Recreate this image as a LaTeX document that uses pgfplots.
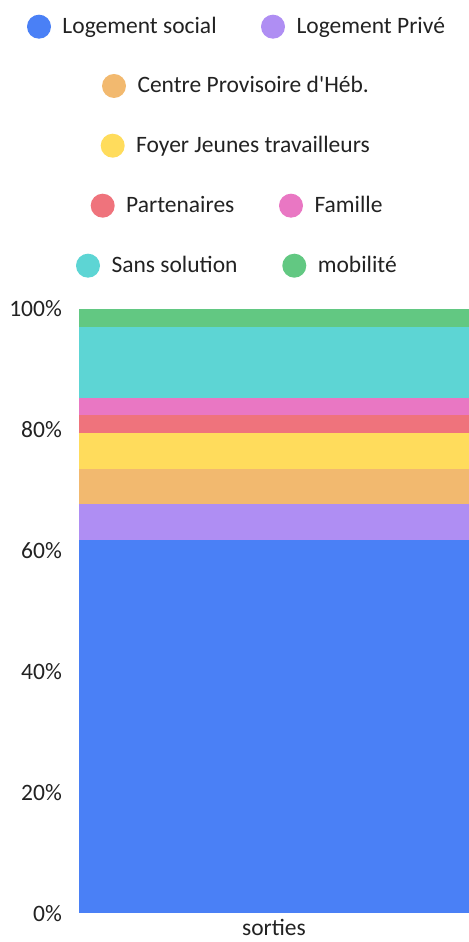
\documentclass[border=0pt]{standalone}
\usepackage{fontspec}
\setmainfont{Carlito}
\usepackage{pgfplots}
\pgfplotsset{compat=1.18}

\definecolor{cBlue}{HTML}{4A80F6}
\definecolor{cPurple}{HTML}{AF8EF3}
\definecolor{cOrange}{HTML}{F2B96F}
\definecolor{cYellow}{HTML}{FFDC5C}
\definecolor{cRed}{HTML}{EF737C}
\definecolor{cPink}{HTML}{E977C3}
\definecolor{cCyan}{HTML}{5DD5D4}
\definecolor{cGreen}{HTML}{62C882}
\definecolor{txt}{HTML}{222222}

\newcommand\bigfont{\fontsize{23.5bp}{27bp}\selectfont}
% circle x, row y (image coords from top), colour, text
\newcommand\legitem[4]{%
  \fill[#3] (#1,942-#2) circle (12);
  \node[anchor=base west, inner sep=0pt, font=\bigfont, text=txt] at (#1+23.3,935-#2) {#4};}

\begin{document}
\begin{tikzpicture}[x=1bp,y=1bp]
\useasboundingbox (0,0) rectangle (469,942);
\begin{axis}[
  at={(79bp,28.7bp)}, anchor=south west,
  scale only axis, width=390bp, height=604.6bp,
  ybar stacked, bar width=390bp,
  xmin=-0.5, xmax=0.5, ymin=0, ymax=100,
  axis line style={draw=none},
  major tick length=0pt,
  xtick={0}, xticklabels={sorties},
  ytick={0,20,40,60,80,100},
  yticklabels={0\%,20\%,40\%,60\%,80\%,100\%},
  tick label style={font=\bigfont, text=txt, inner sep=0pt},
  yticklabel shift=17bp,
  xticklabel style={anchor=base},
  xticklabel shift=22bp,
  clip=false,
]
\addplot[fill=cBlue, draw=none]   coordinates {(0,61.76)};
\addplot[fill=cPurple, draw=none] coordinates {(0,5.88)};
\addplot[fill=cOrange, draw=none] coordinates {(0,5.88)};
\addplot[fill=cYellow, draw=none] coordinates {(0,5.88)};
\addplot[fill=cRed, draw=none]    coordinates {(0,2.94)};
\addplot[fill=cPink, draw=none]   coordinates {(0,2.94)};
\addplot[fill=cCyan, draw=none]   coordinates {(0,11.76)};
\addplot[fill=cGreen, draw=none]  coordinates {(0,2.96)};
\end{axis}
\legitem{39}{26.7}{cBlue}{Logement social}
\legitem{273}{26.7}{cPurple}{Logement Privé}
\legitem{114}{86}{cOrange}{Centre Provisoire d\textquotesingle Héb.}
\legitem{112.7}{145.7}{cYellow}{Foyer Jeunes travailleurs}
\legitem{102.7}{205.7}{cRed}{Partenaires}
\legitem{291}{205.7}{cPink}{Famille}
\legitem{88}{265.7}{cCyan}{Sans solution}
\legitem{294.3}{265.7}{cGreen}{mobilité}
\end{tikzpicture}
\end{document}
